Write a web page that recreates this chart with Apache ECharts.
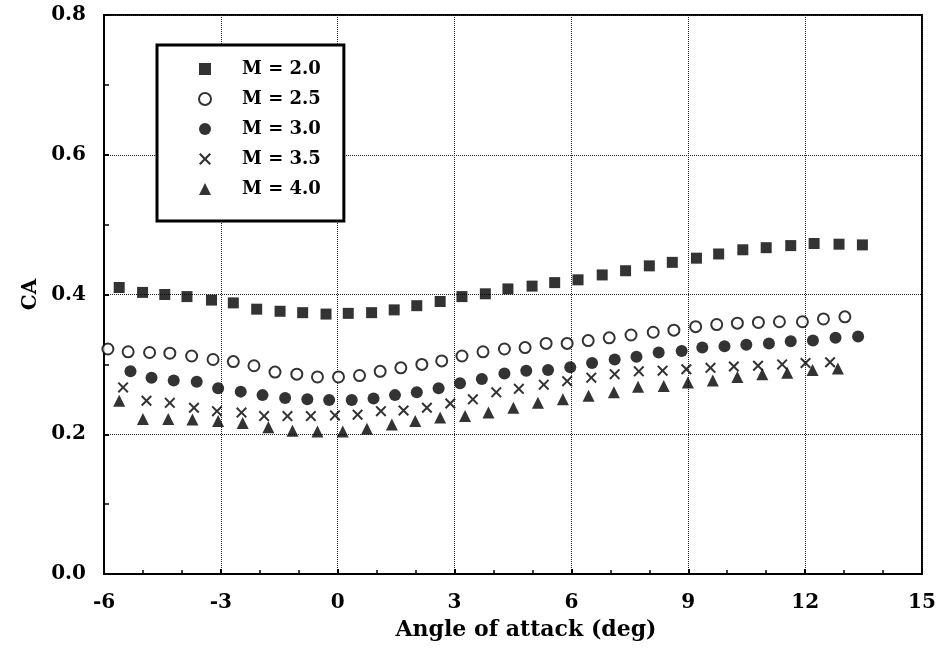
<!DOCTYPE html>
<html>
<head>
<meta charset="utf-8">
<script src="https://cdn.jsdelivr.net/npm/echarts@6/dist/echarts.min.js"></script>
<style>
html,body{margin:0;padding:0;background:#fff;}
#chart{width:943px;height:656px;}
</style>
</head>
<body>
<div id="chart"></div>
<script>
// ---- data ----
const seriesNames = ['M = 2.0', 'M = 2.5', 'M = 3.0', 'M = 3.5', 'M = 4.0'];

const m20x = [-5.61,-5.01,-4.44,-3.87,-3.24,-2.68,-2.08,-1.48,-0.90,-0.30,0.27,0.87,1.45,2.03,2.63,3.19,3.79,4.37,4.99,5.57,6.17,6.79,7.39,8.00,8.59,9.21,9.78,10.40,11.00,11.63,12.23,12.87,13.47];
const m20y = [0.410,0.403,0.400,0.397,0.392,0.388,0.379,0.376,0.374,0.372,0.373,0.374,0.378,0.384,0.390,0.397,0.401,0.408,0.412,0.417,0.421,0.428,0.434,0.441,0.446,0.452,0.458,0.464,0.467,0.470,0.473,0.472,0.471];

const m25x = [-5.90,-5.38,-4.83,-4.31,-3.75,-3.20,-2.68,-2.15,-1.61,-1.05,-0.52,0.02,0.56,1.09,1.62,2.16,2.67,3.19,3.73,4.28,4.81,5.35,5.89,6.43,6.97,7.53,8.10,8.63,9.19,9.73,10.26,10.80,11.34,11.93,12.47,13.02];
const m25y = [0.322,0.318,0.317,0.316,0.312,0.307,0.304,0.298,0.289,0.286,0.282,0.282,0.284,0.290,0.295,0.300,0.305,0.312,0.318,0.322,0.324,0.330,0.330,0.334,0.338,0.342,0.346,0.349,0.354,0.357,0.359,0.360,0.361,0.361,0.365,0.368];

const m30x = [-5.32,-4.78,-4.21,-3.62,-3.07,-2.49,-1.93,-1.35,-0.78,-0.22,0.36,0.92,1.47,2.03,2.59,3.14,3.70,4.28,4.84,5.40,5.97,6.53,7.11,7.67,8.24,8.83,9.36,9.93,10.49,11.07,11.63,12.20,12.78,13.36];
const m30y = [0.290,0.281,0.277,0.275,0.266,0.261,0.256,0.252,0.250,0.249,0.249,0.251,0.256,0.260,0.266,0.273,0.279,0.287,0.291,0.292,0.296,0.302,0.307,0.311,0.317,0.319,0.324,0.326,0.328,0.330,0.333,0.334,0.338,0.340];

const m35x = [-5.51,-4.91,-4.31,-3.69,-3.10,-2.47,-1.89,-1.29,-0.69,-0.07,0.51,1.11,1.69,2.29,2.89,3.47,4.07,4.65,5.29,5.89,6.51,7.11,7.73,8.34,8.95,9.57,10.17,10.79,11.41,12.01,12.64];
const m35y = [0.267,0.248,0.245,0.238,0.233,0.231,0.226,0.226,0.226,0.227,0.228,0.233,0.234,0.238,0.244,0.250,0.260,0.265,0.271,0.276,0.281,0.286,0.290,0.291,0.293,0.295,0.297,0.298,0.300,0.302,0.303];

const m40x = [-5.61,-5.00,-4.35,-3.73,-3.07,-2.44,-1.78,-1.16,-0.52,0.13,0.75,1.39,1.99,2.63,3.27,3.87,4.51,5.14,5.78,6.44,7.09,7.71,8.37,8.99,9.63,10.26,10.90,11.54,12.19,12.84];
const m40y = [0.248,0.222,0.222,0.221,0.219,0.216,0.210,0.205,0.204,0.204,0.208,0.214,0.219,0.224,0.226,0.231,0.238,0.245,0.250,0.255,0.260,0.268,0.269,0.274,0.277,0.282,0.286,0.288,0.292,0.294];

const xAxisTitle = 'Angle of attack (deg)';
const yAxisTitle = 'CA';

// ---- chart ----
const FONT = '"DejaVu Serif", "Liberation Serif", serif';
const pair = (xs, ys) => xs.map((x, i) => [x, ys[i]]);
const crossPath = 'path://M0,1.3L1.3,0L5,3.7L8.7,0L10,1.3L6.3,5L10,8.7L8.7,10L5,6.3L1.3,10L0,8.7L3.7,5Z';

const chart = echarts.init(document.getElementById('chart'), null, {renderer: 'canvas'});
chart.setOption({
  backgroundColor: '#fff',
  animation: false,
  grid: {left: 104, right: 21, top: 15, bottom: 82, show: true, borderColor: '#000', borderWidth: 2, backgroundColor: 'transparent'},
  xAxis: {
    type: 'value', min: -6, max: 15, interval: 3,
    name: xAxisTitle, nameLocation: 'middle', nameGap: 45,
    nameTextStyle: {fontFamily: FONT, fontWeight: 'bold', fontSize: 22, color: '#000', padding: [0, 0, 0, 26]},
    axisLine: {show: true, onZero: false, lineStyle: {color: '#000', width: 2}},
    axisTick: {show: true, inside: true, length: 5, lineStyle: {color: '#000', width: 2}},
    minorTick: {show: true, splitNumber: 3, length: 4, lineStyle: {color: '#000', width: 1.5}},
    axisLabel: {fontFamily: FONT, fontWeight: 'bold', fontSize: 20, color: '#000', margin: 19},
    splitLine: {show: true, lineStyle: {color: '#222', width: 1, type: 'dotted'}}
  },
  yAxis: {
    type: 'value', min: 0, max: 0.8, interval: 0.2,
    name: yAxisTitle, nameLocation: 'middle', nameGap: 60,
    nameTextStyle: {fontFamily: FONT, fontWeight: 'bold', fontSize: 20, color: '#000'},
    axisLine: {show: true, onZero: false, lineStyle: {color: '#000', width: 2}},
    axisTick: {show: true, inside: true, length: 5, lineStyle: {color: '#000', width: 2}},
    minorTick: {show: true, splitNumber: 2, length: 5, lineStyle: {color: '#000', width: 1.5}},
    axisLabel: {fontFamily: FONT, fontWeight: 'bold', fontSize: 20, color: '#000', margin: 18, formatter: v => v.toFixed(1)},
    splitLine: {show: true, lineStyle: {color: '#222', width: 1, type: 'dotted'}}
  },
  legend: {
    orient: 'vertical', left: 157, top: 45,
    backgroundColor: '#fff', borderColor: '#000', borderWidth: 3,
    padding: [15, 23, 23, 41],
    itemWidth: 12, itemHeight: 12, itemGap: 12,
    textStyle: {fontFamily: FONT, fontWeight: 'bold', fontSize: 18, lineHeight: 17, color: '#000', padding: [0, 0, 0, 26]},
    data: seriesNames
  },
  series: [
    {name: seriesNames[0], type: 'scatter', symbol: 'rect', symbolSize: 11,
     itemStyle: {color: '#000'}, data: pair(m20x, m20y)},
    {name: seriesNames[1], type: 'scatter', symbol: 'circle', symbolSize: 11,
     itemStyle: {color: '#fff', borderColor: '#000', borderWidth: 2}, data: pair(m25x, m25y)},
    {name: seriesNames[2], type: 'scatter', symbol: 'circle', symbolSize: 12,
     itemStyle: {color: '#000'}, data: pair(m30x, m30y)},
    {name: seriesNames[3], type: 'scatter', symbol: crossPath, symbolSize: 11,
     itemStyle: {color: '#000'}, data: pair(m35x, m35y)},
    {name: seriesNames[4], type: 'scatter', symbol: 'triangle', symbolSize: 12,
     itemStyle: {color: '#000'}, data: pair(m40x, m40y)}
  ]
});
</script>
</body>
</html>
